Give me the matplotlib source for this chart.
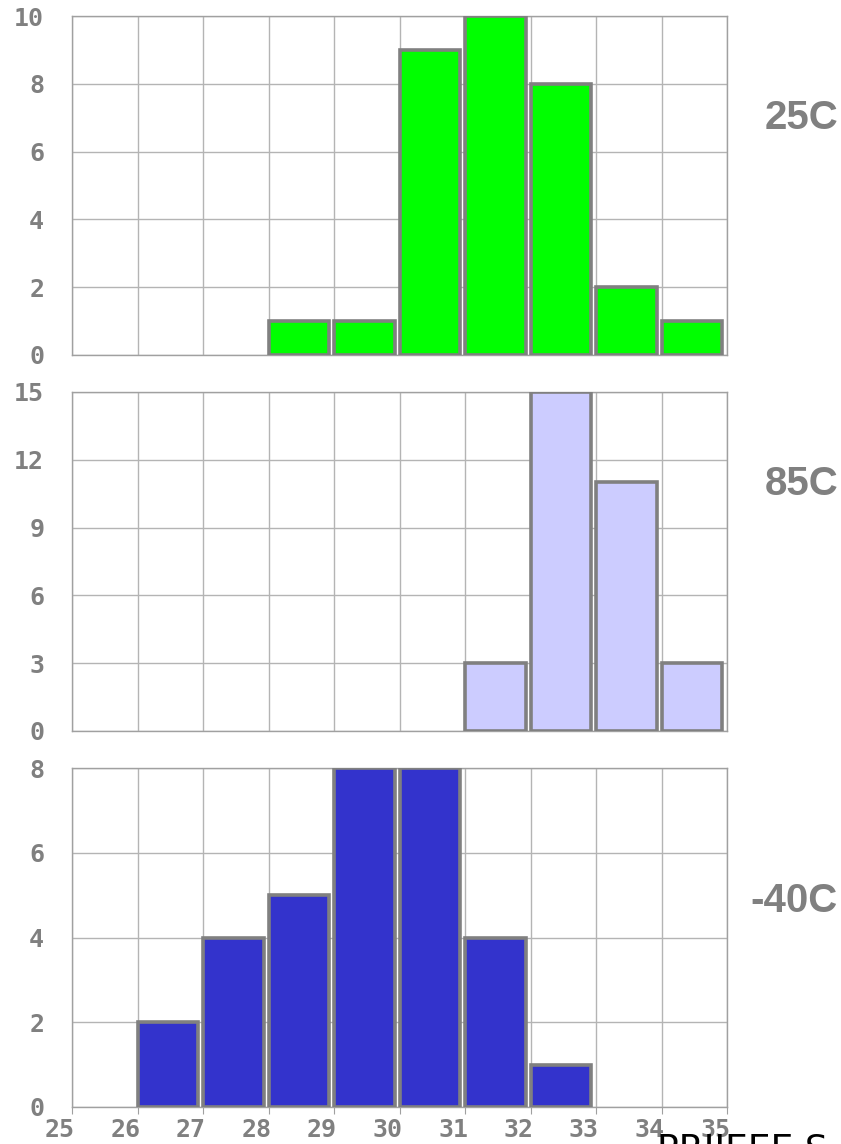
import matplotlib
matplotlib.use("Agg")
import matplotlib.pyplot as plt
import matplotlib.transforms as mtransforms

# histogram bins (left edges) and counts per temperature
bin_edges = [25, 26, 27, 28, 29, 30, 31, 32, 33, 34]
counts_25c = [0, 0, 0, 1, 1, 9, 10, 8, 2, 1]
counts_85c = [0, 0, 0, 0, 0, 0, 3, 15, 11, 3]
counts_m40c = [0, 2, 4, 5, 8, 8, 4, 1, 0, 0]

panels = [
    ("25C", counts_25c, "#00ff00", [0, 2, 4, 6, 8, 10]),
    ("85C", counts_85c, "#ccccff", [0, 3, 6, 9, 12, 15]),
    ("-40C", counts_m40c, "#3333cc", [0, 2, 4, 6, 8]),
]
x_ticks = list(range(25, 36))

W, H = 841, 1144
fig = plt.figure(figsize=(W / 100, H / 100), dpi=100)
tops = [16, 392, 768]
label_y = [118, 484, 901]
GRAY = "#808080"
tick_font = dict(family="DejaVu Sans Mono", weight="bold", size=18, color=GRAY)

for i, (name, counts, color, yt) in enumerate(panels):
    top = tops[i]
    ax = fig.add_axes([72 / W, 1 - (top + 339) / H, 655 / W, 339 / H])
    # empty bins get no bar at all
    xs = [b for b, c in zip(bin_edges, counts) if c > 0]
    hs = [c for c in counts if c > 0]
    ax.bar(xs, hs, width=0.93, align="edge", color=color,
           edgecolor=GRAY, linewidth=2.6, zorder=3)
    ax.set_xlim(25, 35)
    ax.set_ylim(0, yt[-1])
    ax.set_yticks(yt)
    ax.set_xticks(x_ticks)
    ax.grid(True, color="#b4b4b4", linewidth=1.0, zorder=0)
    for s in ax.spines.values():
        s.set_color("#a0a0a0")
        s.set_linewidth(1.0)
    ax.tick_params(axis="y", length=0, pad=20)
    for lab in ax.get_yticklabels():
        lab.set(**tick_font)
    if i < 2:
        ax.tick_params(axis="x", length=0, labelbottom=False)
    else:
        ax.tick_params(axis="x", length=5, color="#a0a0a0", pad=3)
        offset = mtransforms.ScaledTranslation(-12 / 100, 0, fig.dpi_scale_trans)
        for lab in ax.get_xticklabels():
            lab.set(**tick_font)
            lab.set_transform(lab.get_transform() + offset)
    fig.text(838 / W, 1 - label_y[i] / H, name, ha="right", va="center",
             family="Liberation Sans", weight="bold", size=29, color=GRAY)

fig.text(657 / W, 1 - 1133 / H, "PRIJEEE S", ha="left", va="top",
         family="DejaVu Sans", size=26, color="black")

fig.savefig("out.png", dpi=100)
